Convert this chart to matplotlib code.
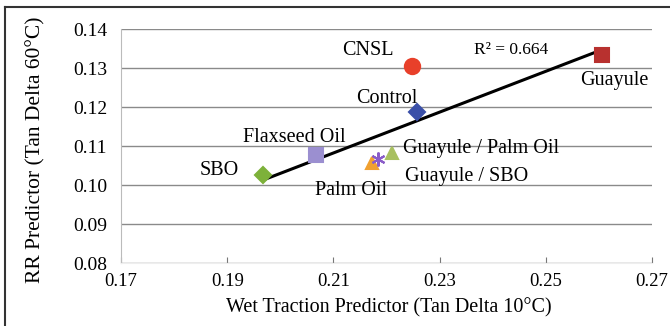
import numpy as np
import matplotlib.pyplot as plt
from matplotlib.lines import Line2D

plt.rcParams['font.family'] = ['Liberation Serif', 'DejaVu Serif']

# samples
names = ['CNSL', 'Guayule', 'Control', 'Flaxseed Oil', 'SBO',
         'Palm Oil', 'Guayule / SBO', 'Guayule / Palm Oil']
wet = [0.2248, 0.2605, 0.2257, 0.2067, 0.1967, 0.2172, 0.2184, 0.2210]
rr = [0.1305, 0.1333, 0.1187, 0.1077, 0.1027, 0.1056, 0.1067, 0.1082]
markers = ['o', 's', 'D', 's', 'D', '^', (6, 2, 0), '^']
colors = ['#E8402A', '#B8312F', '#3A4FA8', '#9B8FD0', '#7DB13A',
          '#F0A030', '#8A5CC8', '#A8C060']
sizes = [11, 10, 8, 10, 8, 9, 10, 9]

# label anchors (left edge, vertical centre)
label_x = [0.2116, 0.2564, 0.2142, 0.1930, 0.1849, 0.2065, 0.2234, 0.2231]
label_y = [0.1346, 0.1269, 0.1223, 0.1123, 0.1038, 0.0987, 0.1023, 0.1093]

r2_text = 'R² = 0.664'

fig = plt.figure(figsize=(6.7, 3.26), dpi=100)
ax = fig.add_axes([0.1806, 0.193, 0.7925, 0.718])

ax.set_xlim(0.17, 0.27)
ax.set_ylim(0.08, 0.14)
ax.set_xticks(np.arange(0.17, 0.2701, 0.02))
ax.set_yticks(np.arange(0.08, 0.1401, 0.01))
ax.set_xticklabels(['%.2f' % t for t in np.arange(0.17, 0.2701, 0.02)])
ax.set_yticklabels(['%.2f' % t for t in np.arange(0.08, 0.1401, 0.01)])
ax.yaxis.grid(True, color='#8a8a8a', linewidth=1.0)
ax.set_axisbelow(True)

for s in ['top', 'right']:
    ax.spines[s].set_visible(False)
ax.spines['left'].set_color('#bbbbbb')
ax.spines['bottom'].set_color('#eeeeee')
ax.tick_params(axis='y', length=0, labelsize=14, pad=10)
ax.tick_params(axis='x', length=4, direction='in', color='#777777',
               labelsize=13.5, pad=7)

# trend line
k, b = np.polyfit(wet, rr, 1)
xs = np.array([min(wet), max(wet)])
ax.plot(xs, k * xs + b, color='black', linewidth=2.2, zorder=2)

for i in range(len(names)):
    ax.plot(wet[i], rr[i], marker=markers[i], color=colors[i],
            markersize=sizes[i], markeredgewidth=1.5, linestyle='none',
            zorder=3)
    ax.text(label_x[i], label_y[i], names[i], fontsize=14.5,
            ha='left', va='center')

ax.text(0.2364, 0.1346, r2_text, fontsize=12.5, ha='left', va='center')

ax.set_xlabel('Wet Traction Predictor (Tan Delta 10°C)', fontsize=14.5)
ax.set_ylabel('RR Predictor (Tan Delta 60°C)', fontsize=15.5)
ax.xaxis.set_label_coords(0.505, -0.15)
ax.yaxis.set_label_coords(-0.143, 0.483)

# frame around the figure, only top and left are visible in the crop
fig.add_artist(Line2D([5 / 670, 5 / 670], [0, 1 - 7 / 326],
                      color='#333333', linewidth=1.5))
fig.add_artist(Line2D([5 / 670, 1], [1 - 7 / 326, 1 - 7 / 326],
                      color='#333333', linewidth=1.5))

fig.savefig('out.png', dpi=100)
